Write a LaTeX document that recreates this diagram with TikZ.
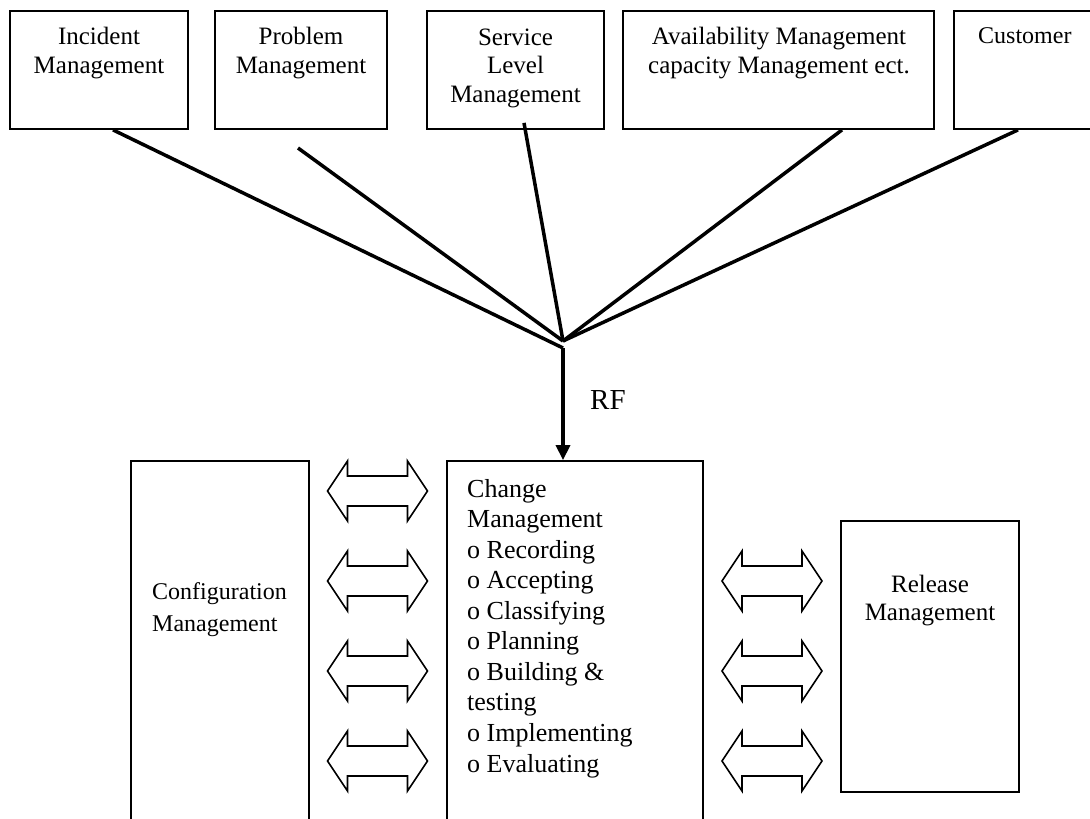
\documentclass[tikz,border=0pt]{standalone}
\usepackage{fontspec}
\setmainfont{Liberation Serif}
\usetikzlibrary{arrows.meta}
\tikzset{
  box/.style={draw, line width=1.8pt, inner sep=0pt},
  conn/.style={line width=3.5pt},
  toptext/.style={font=\fontsize{25}{28.3}\selectfont, align=center, inner sep=0pt, anchor=base},
  chgtext/.style={font=\fontsize{26}{30.55}\selectfont, align=left, inner sep=0pt, anchor=base west},
  cfgtext/.style={font=\fontsize{24}{32}\selectfont, align=left, inner sep=0pt, anchor=base west},
  reltext/.style={font=\fontsize{25}{28}\selectfont, align=center, inner sep=0pt, anchor=base},
  dblarrow/.pic={\draw[line width=1.6pt, line join=miter]
    (-50,0) -- (-30,-30) -- (-30,-15) -- (30,-15) -- (30,-30) -- (50,0)
    -- (30,30) -- (30,15) -- (-30,15) -- (-30,30) -- cycle;}
}
\begin{document}
\begin{tikzpicture}[x=1pt,y=-1pt]
\useasboundingbox (0,0) rectangle (1090,819);
\fill[white] (0,0) rectangle (1090,819);
\clip (0,0) rectangle (1090,819);

% top boxes
\node[box, minimum width=178pt, minimum height=118pt] (inc) at (99,70) {};
\node[box, minimum width=172pt, minimum height=118pt] (prb) at (301,70) {};
\node[box, minimum width=177pt, minimum height=118pt] (svc) at (515.5,70) {};
\node[box, minimum width=311pt, minimum height=118pt] (avl) at (778.5,70) {};
\node[box, minimum width=180pt, minimum height=118pt] (cst) at (1044,70) {};

\node[toptext] (inct) at (99,73) {Incident\\Management};
\node[toptext] (prbt) at (301,73) {Problem\\Management};
\node[toptext] (svct) at (515.5,102) {Service\\Level\\Management};
\node[toptext] (avlt) at (779,73) {Availability Management\\capacity Management ect.};
\node[font=\fontsize{24}{28}\selectfont, inner sep=0pt, anchor=base west] (cstt) at (978,43) {Customer};

% bottom boxes
\node[box, minimum width=178pt, minimum height=380pt] (cfg) at (220,651) {};
\node[box, minimum width=256pt, minimum height=380pt] (chg) at (575,651) {};
\node[box, minimum width=178pt, minimum height=271pt] (rel) at (930,656.5) {};

\node[cfgtext] (cfgt) at (152,631) {Configuration\\Management};
\node[chgtext] (chgt) at (467,772) {Change\\Management\\o Recording\\o Accepting\\o Classifying\\o Planning\\o Building \&\\testing\\o Implementing\\o Evaluating};
\node[reltext] (relt) at (930,620) {Release\\Management};

% connectors to junction
\coordinate (J) at (563,341);
\coordinate (Jl) at (563,348);
\coordinate (pst) at (298,148);
\draw[conn] ([xshift=14pt]inc.south) -- (Jl);
\draw[conn] (pst) -- (J);
\draw[conn] ([xshift=8.5pt,yshift=7pt]svc.south) -- (J);
\draw[conn] ([xshift=63.5pt]avl.south) -- (J);
\draw[conn] ([xshift=-26pt]cst.south) -- (J);
\draw[conn, -{Triangle[length=15pt,width=14pt]}] (Jl) -- (Jl |- chg.north);
\node[font=\fontsize{29}{32}\selectfont, inner sep=0pt, anchor=base west] (rf) at (590,409) {RF};

% double arrows
\foreach \yy in {491,581,671,761} { \pic at (377.5,\yy) {dblarrow}; }
\foreach \yy in {581,671,761} { \pic at (772,\yy) {dblarrow}; }
\end{tikzpicture}
\end{document}
